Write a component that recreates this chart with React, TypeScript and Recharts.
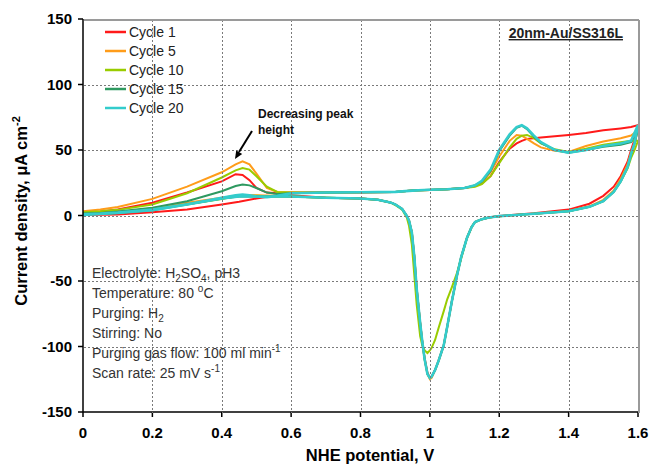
import React from "react";
import { Line, LineChart, XAxis, YAxis } from "recharts";

// potentials (V vs NHE) for the forward and the return sweep
const anodicV = [
  0, 0.05, 0.1, 0.2, 0.3, 0.4, 0.44, 0.46, 0.48, 0.5, 0.53, 0.56, 0.6, 0.7, 0.8, 0.9,
  0.95, 1.0, 1.05, 1.1, 1.13, 1.15, 1.175, 1.2, 1.23, 1.25, 1.265, 1.28, 1.3, 1.32,
  1.36, 1.4, 1.45, 1.5, 1.55, 1.58, 1.6,
];
const cathodicV = [
  1.6, 1.59, 1.58, 1.57, 1.55, 1.53, 1.5, 1.46, 1.4, 1.3, 1.2, 1.17, 1.15, 1.13, 1.12,
  1.107, 1.09, 1.078, 1.063, 1.05, 1.04, 1.025, 1.015, 1.005, 1.0, 0.993, 0.985, 0.978,
  0.972, 0.962, 0.955, 0.948, 0.94, 0.934, 0.92, 0.9, 0.886, 0.85, 0.8, 0.7, 0.6, 0.55,
  0.5, 0.45, 0.4, 0.3, 0.2, 0.1, 0.05, 0,
];

// current density, uA cm-2
const cycle1Up = [
  2, 3, 4.5, 9.7, 17.5, 26, 31.5, 31, 27, 21, 17.5, 17, 17.5, 17.5, 17.5, 18, 19, 19.5,
  20, 21, 22.5, 24.5, 30, 41, 51, 55, 57, 58.5, 59, 59.5, 60.5, 61.5, 63, 65, 66.5, 67.5, 69,
];
const cycle1Down = [
  69, 58, 50, 41, 30, 22, 15, 9, 4.5, 1.8, -0.3, -1.5, -2.8, -5, -9, -17, -32, -46, -66,
  -85, -99, -111, -118, -123, -124, -120, -109, -96, -82, -56, -31, -13, -4, -0.5, 5, 8.5,
  10, 12, 13, 13.5, 15.5, 15, 13, 10.5, 8.4, 4.6, 2.5, 0.8, 0.5, 0.5,
];
const cycle5Up = [
  3.3, 4.5, 6.5, 12.7, 22, 33, 39, 41.3, 39, 32, 21, 18, 17.5, 17.5, 17.8, 18, 19, 19.5,
  20, 21, 23, 25.5, 33, 45, 57, 61.5, 61, 58.5, 55, 52, 49.5, 48.5, 53, 56.5, 59, 61, 65,
];
const cycle5Down = [
  65, 55, 48, 39, 28, 19, 12, 7, 3.5, 1.3, -0.5, -1.5, -2.8, -5, -9, -17, -32, -46, -66,
  -85, -99, -111, -118, -124, -125, -121, -110, -96, -82, -56, -31, -13, -4, -0.5, 5, 8.5,
  10, 12, 13, 13.5, 14.5, 15, 15.5, 15.5, 13.5, 9.7, 5.5, 2.5, 1.8, 1.5,
];
const cycle10Up = [
  2.5, 3.2, 4.3, 8.4, 17, 29, 34.5, 36.3, 35, 30, 22, 18, 17.5, 17.5, 17.8, 18, 19, 19.5,
  20, 21, 22, 24, 30, 40, 52, 58.5, 61, 61.5, 59, 55, 50.5, 48.5, 51, 54, 56, 57, 57,
];
const cycle10Down = [
  57, 50, 44, 36, 26, 18, 11, 6.6, 3.3, 1.3, -0.5, -1.5, -2.8, -5, -9, -17, -33, -44, -55,
  -64, -73, -86, -95, -101, -103, -105, -103, -99, -92, -68, -45, -22, -8, -2, 4.5, 8,
  10, 12, 13, 13.5, 14.5, 14.5, 15, 15, 12.5, 8.5, 4.5, 2.2, 1.5, 1,
];
const cycle15Up = [
  1.5, 2, 3, 5.9, 10.9, 18.5, 22.5, 23.7, 23, 21, 17.5, 16.5, 17, 17.5, 17.8, 18, 19, 19.7,
  20, 21, 23, 26, 34, 49, 61, 67, 68.5, 66, 60, 55.5, 50, 48, 50, 52.5, 54, 56, 66,
];
const cycle15Down = [
  66, 55, 47, 37, 26, 18, 11, 6.6, 3.3, 1.3, -0.5, -1.5, -2.8, -5, -9, -17, -32, -46, -66,
  -85, -99, -111, -118, -123, -124, -121, -110, -96, -82, -56, -31, -13, -4, -0.5, 5, 8.5,
  10, 12, 13, 13.5, 14.5, 14.5, 14.5, 14.5, 13, 8.4, 4, 2, 1.2, 0.8,
];
const cycle20Up = [
  1, 1.5, 2.3, 4.6, 8.5, 13.5, 15.5, 16, 15.5, 14.5, 14, 15, 17, 17.5, 17.8, 18, 19, 19.7,
  20, 21, 23, 26.5, 35, 50, 62, 67.5, 69, 66.5, 61, 56, 50, 48, 50, 53, 55, 57, 69,
];
const cycle20Down = [
  69, 55, 47, 37, 26, 18, 11, 6.6, 3.3, 1.3, -0.5, -1.5, -2.8, -5, -9, -17, -32, -46, -66,
  -85, -99, -111, -118, -123, -124, -121, -110, -96, -82, -56, -31, -13, -4, -0.5, 5, 8.5,
  10, 12, 13, 13.5, 14.5, 14.5, 14.5, 14.5, 13, 8.4, 4, 2, 1.2, 0.5,
];

const xTicks = [0, 0.2, 0.4, 0.6, 0.8, 1, 1.2, 1.4, 1.6];
const yTicks = [-150, -100, -50, 0, 50, 100, 150];

const loop = (up: number[], down: number[]) => [
  ...anodicV.map((v, k) => ({ v, i: up[k] })),
  ...cathodicV.map((v, k) => ({ v, i: down[k] })),
];

const cycles = [
  { name: "Cycle 1", color: "#ff1a1a", width: 2, data: loop(cycle1Up, cycle1Down) },
  { name: "Cycle 5", color: "#ff9c1a", width: 2, data: loop(cycle5Up, cycle5Down) },
  { name: "Cycle 10", color: "#99cc00", width: 2, data: loop(cycle10Up, cycle10Down) },
  { name: "Cycle 15", color: "#2e9960", width: 2, data: loop(cycle15Up, cycle15Down) },
  { name: "Cycle 20", color: "#33cccc", width: 2.6, data: loop(cycle20Up, cycle20Down) },
];

const W = 651;
const H = 464;
const M = { top: 19, right: 13, bottom: 52, left: 83 };
const FONT = "'Liberation Sans', Arial, sans-serif";

// plot box, same numbers the chart gets through margin/axis sizes
const px = (v: number) =>
  Math.round(M.left + ((v - xTicks[0]) / (xTicks[xTicks.length - 1] - xTicks[0])) * (W - M.left - M.right)) + 0.5;
const py = (i: number) =>
  Math.round(M.top + ((yTicks[yTicks.length - 1] - i) / (yTicks[yTicks.length - 1] - yTicks[0])) * (H - M.top - M.bottom)) + 0.5;

const conditions: React.ReactNode[] = [
  <>
    Electrolyte: H<tspan dy={4} fontSize={10}>2</tspan>
    <tspan dy={-4}>SO</tspan>
    <tspan dy={4} fontSize={10}>4</tspan>
    <tspan dy={-4}>, pH3</tspan>
  </>,
  <>
    Temperature: 80 <tspan dy={-6} fontSize={10}>o</tspan>
    <tspan dy={6}>C</tspan>
  </>,
  <>
    Purging: H<tspan dy={4} fontSize={10}>2</tspan>
  </>,
  <>Stirring: No</>,
  <>
    Purging gas flow: 100 ml min<tspan dy={-6} fontSize={10}>-1</tspan>
  </>,
  <>
    Scan rate: 25 mV s<tspan dy={-6} fontSize={10}>-1</tspan>
  </>,
];

function Overlay() {
  return (
    <svg
      width={W}
      height={H}
      style={{ position: "absolute", left: 0, top: 0, pointerEvents: "none", zIndex: 2 }}
    >
      {/* grid and frame */}
      <g stroke="#7a7a7a" strokeDasharray="2 2" strokeWidth={1} shapeRendering="crispEdges">
        {xTicks.slice(1, -1).map((t) => (
          <line key={"x" + t} x1={px(t)} x2={px(t)} y1={py(150)} y2={py(-150)} />
        ))}
        {yTicks.slice(1, -1).map((t) => (
          <line key={"y" + t} x1={px(0)} x2={px(1.6)} y1={py(t)} y2={py(t)} />
        ))}
      </g>
      <g stroke="#9a9a9a" strokeWidth={2} shapeRendering="crispEdges">
        <line x1={px(0)} x2={px(1.6)} y1={py(150)} y2={py(150)} />
        <line x1={px(1.6)} x2={px(1.6)} y1={py(150)} y2={py(-150)} />
      </g>

      {/* legend */}
      <g fontFamily={FONT} fontSize={14} fill="#222">
        {cycles.map((c, k) => (
          <g key={c.name}>
            <line x1={105} x2={126} y1={32 + k * 19} y2={32 + k * 19} stroke={c.color} strokeWidth={2.5} />
            <text x={129} y={37 + k * 19}>{c.name}</text>
          </g>
        ))}
      </g>

      <text x={623} y={38} textAnchor="end" fontFamily={FONT} fontSize={14} fontWeight={700} fill="#222" textDecoration="underline">
        20nm-Au/SS316L
      </text>
      <text fontFamily={FONT} fontSize={12} fontWeight={700} fill="#111">
        <tspan x={258} y={118}>Decreasing peak</tspan>
        <tspan x={258} y={134}>height</tspan>
      </text>
      <line x1={252} y1={131} x2={239} y2={152} stroke="#000" strokeWidth={2} />
      <polygon points="235,159 242.2,154 236.2,150.4" fill="#000" />

      <g fontFamily={FONT} fontSize={14} fill="#333">
        {conditions.map((c, k) => (
          <text key={k} x={92} y={278 + k * 20}>{c}</text>
        ))}
      </g>

      <text x={370} y={461} textAnchor="middle" fontFamily={FONT} fontSize={16.5} fontWeight={700} fill="#000">
        NHE potential, V
      </text>
      <text
        transform="translate(27, 211) rotate(-90)"
        textAnchor="middle"
        fontFamily={FONT}
        fontSize={16.5}
        fontWeight={700}
        fill="#000"
      >
        Current density, μA cm<tspan dy={-7} fontSize={11}>-2</tspan>
      </text>
    </svg>
  );
}

export default function App() {
  return (
    <div style={{ position: "absolute", left: 0, top: 0, width: W, height: H, background: "#fff" }}>
      <div style={{ position: "absolute", left: 0, top: 0, zIndex: 1 }}>
        <LineChart
          width={W}
          height={H}
          margin={{ top: M.top, right: M.right, bottom: 0, left: 0 }}
        >
          <XAxis
            dataKey="v"
            type="number"
            domain={[0, 1.6]}
            ticks={xTicks}
            height={M.bottom}
            stroke="#000"
            strokeWidth={1.5}
            tickSize={5}
            tickMargin={10}
            tick={{ fill: "#000", fontSize: 15, fontWeight: 700, fontFamily: FONT }}
          />
          <YAxis
            type="number"
            domain={[-150, 150]}
            ticks={yTicks}
            width={M.left}
            stroke="#000"
            strokeWidth={1.5}
            tickSize={5}
            tickMargin={6}
            tick={{ fill: "#000", fontSize: 15, fontWeight: 700, fontFamily: FONT }}
          />
          {cycles.map((c) => (
            <Line
              key={c.name}
              data={c.data}
              dataKey="i"
              name={c.name}
              type="linear"
              stroke={c.color}
              strokeWidth={c.width}
              dot={false}
              activeDot={false}
              isAnimationActive={false}
            />
          ))}
        </LineChart>
      </div>
      <Overlay />
    </div>
  );
}
